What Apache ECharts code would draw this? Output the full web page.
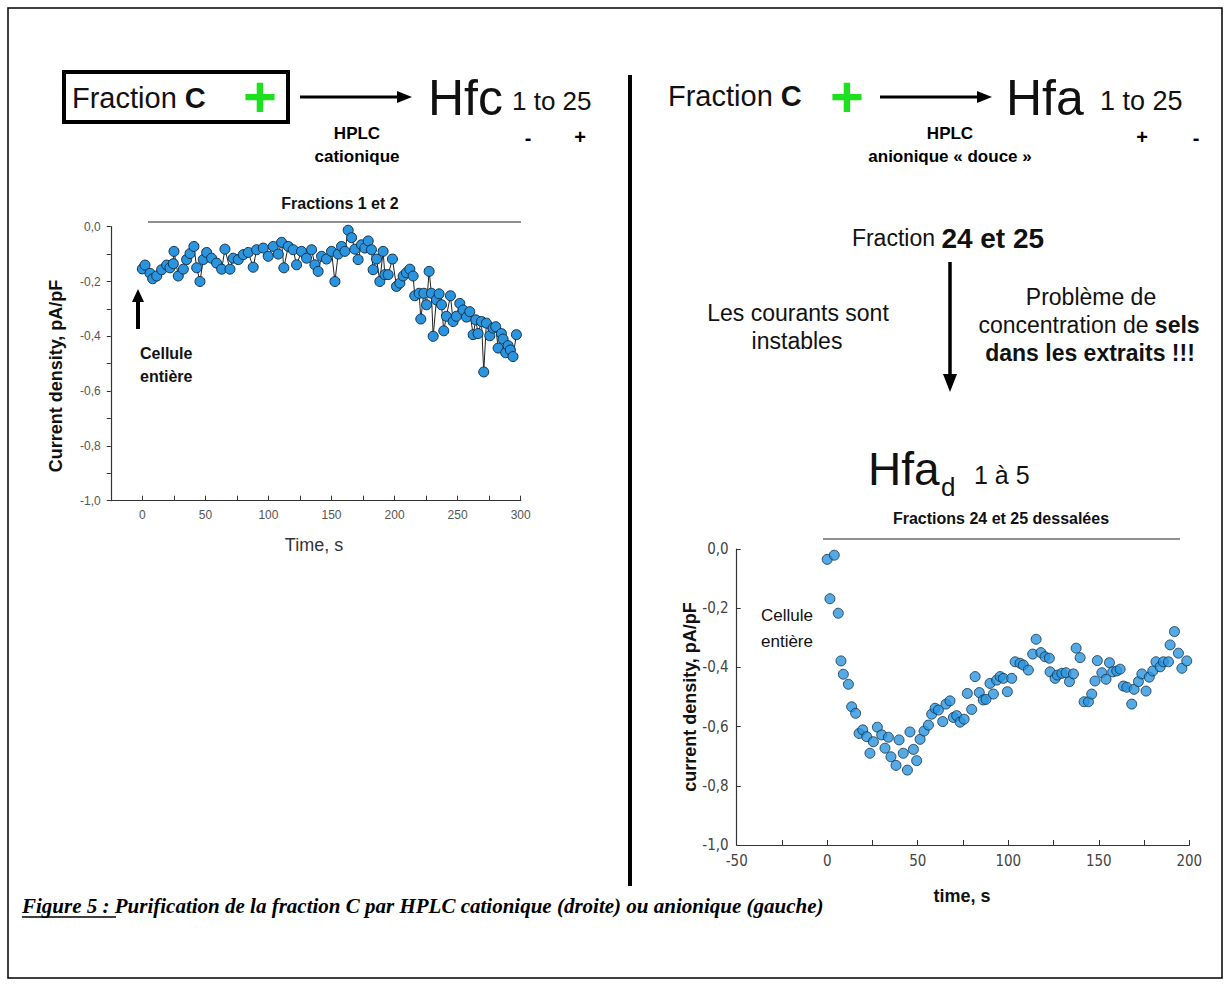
<!DOCTYPE html>
<html><head><meta charset="utf-8">
<script src="https://cdn.jsdelivr.net/npm/echarts@6/dist/echarts.min.js"></script>
<style>html,body{margin:0;padding:0;background:#fff}#c{width:1230px;height:986px}</style>
</head><body><div id="c"></div>
<script>
// ---- Left panel (Hfc fractions 1 et 2) ----
const leftTime = [0,2.1,6.1,8.2,11.4,15.3,19.3,21.9,24.6,25.1,28.5,32.5,35.1,37.8,40.9,43.1,45.7,48.3,51.0,54.9,58.9,62.9,65.5,69.5,72.1,76.1,80.0,84.0,87.9,90.6,95.9,99.8,103.8,107.8,110.4,112.2,115.7,119.6,122.3,126.2,130.2,134.2,136.8,139.4,142.1,146.0,150.0,152.7,155.3,157.9,160.6,163.2,165.9,168.5,171.1,173.8,176.4,179.1,181.7,183.0,185.7,188.3,190.9,192.3,194.9,198.3,201.5,204.2,206.8,209.4,212.1,214.7,216.0,219.5,220.8,223.2,225.3,227.4,229.2,230.6,233.2,235.3,237.2,239.0,241.1,244.3,246.4,249.0,251.7,254.3,257.0,259.6,262.3,264.4,266.2,268.9,270.7,272.8,275.5,278.1,280.2,282.1,284.7,286.0,288.1,290.0,291.8,293.9,296.6];
const leftDensity = [-0.154,-0.14,-0.17,-0.19,-0.18,-0.157,-0.14,-0.15,-0.135,-0.09,-0.18,-0.155,-0.12,-0.098,-0.072,-0.15,-0.2,-0.12,-0.094,-0.115,-0.133,-0.155,-0.082,-0.155,-0.115,-0.12,-0.102,-0.094,-0.148,-0.084,-0.078,-0.108,-0.072,-0.1,-0.057,-0.15,-0.072,-0.084,-0.139,-0.09,-0.115,-0.084,-0.139,-0.163,-0.108,-0.118,-0.09,-0.2,-0.1,-0.072,-0.09,-0.013,-0.04,-0.082,-0.12,-0.066,-0.078,-0.052,-0.084,-0.157,-0.118,-0.2,-0.09,-0.175,-0.175,-0.118,-0.218,-0.206,-0.18,-0.168,-0.155,-0.18,-0.252,-0.243,-0.337,-0.243,-0.285,-0.163,-0.243,-0.4,-0.267,-0.245,-0.285,-0.38,-0.327,-0.252,-0.346,-0.327,-0.28,-0.304,-0.33,-0.31,-0.394,-0.34,-0.39,-0.346,-0.53,-0.352,-0.398,-0.37,-0.365,-0.443,-0.39,-0.41,-0.46,-0.434,-0.45,-0.474,-0.394];

// ---- Right panel (Hfa_d fractions 24 et 25 dessalées) ----
const rightTime = [0,1.5,3.9,6.1,7.6,8.9,11.7,13.5,15.7,17.6,19.6,21.8,23.6,25.5,27.7,30.1,31.9,33.8,35.2,38.0,39.7,42.0,44.3,45.7,47.6,49.4,51.3,53.5,55.9,57.7,59.6,61.4,63.8,65.6,67.8,69.7,71.5,73.4,75.6,77.4,79.8,81.7,84.0,86.2,87.7,89.9,91.8,93.6,95.5,97.3,99.5,101.9,103.8,106.5,108.3,111.1,113.5,115.4,118.0,120.3,122.7,123.1,125.9,127.1,129.6,131.9,133.8,136.0,137.5,139.7,141.9,144.3,146.1,147.9,149.2,151.7,154.0,155.9,157.7,159.9,161.8,163.6,165.5,168.2,169.5,171.9,173.8,176.1,177.9,179.8,181.6,183.9,185.7,188.5,189.4,191.8,194.0,195.9,198.6];
const rightDensity = [-0.035,-0.168,-0.021,-0.217,-0.378,-0.423,-0.457,-0.533,-0.555,-0.623,-0.611,-0.634,-0.690,-0.651,-0.602,-0.628,-0.673,-0.636,-0.702,-0.731,-0.645,-0.690,-0.747,-0.618,-0.677,-0.715,-0.643,-0.615,-0.595,-0.558,-0.538,-0.544,-0.583,-0.524,-0.513,-0.569,-0.563,-0.585,-0.575,-0.488,-0.542,-0.431,-0.485,-0.510,-0.508,-0.454,-0.490,-0.443,-0.431,-0.437,-0.482,-0.437,-0.381,-0.386,-0.392,-0.409,-0.355,-0.305,-0.350,-0.364,-0.369,-0.415,-0.437,-0.426,-0.420,-0.418,-0.448,-0.422,-0.335,-0.367,-0.516,-0.516,-0.490,-0.446,-0.377,-0.418,-0.440,-0.384,-0.415,-0.412,-0.406,-0.463,-0.467,-0.524,-0.474,-0.448,-0.422,-0.480,-0.433,-0.412,-0.381,-0.398,-0.381,-0.381,-0.324,-0.279,-0.352,-0.403,-0.378];

const leftXTickStep = 50, rightXTickStep = 50;
const yLabelStep = 0.2;

function zip(a, b) { return a.map((v, i) => [v, b[i]]); }
function fmtY(v) {
  const r = Math.round(v * 10);
  if (Math.abs(r) % 2 !== 0) return '';
  return (r / 10).toFixed(1).replace('.', ',').replace('-0,0', '0,0');
}

const SANS = 'Liberation Sans, Arial, Helvetica, sans-serif';
const chart = echarts.init(document.getElementById('c'), null, {renderer: 'svg'});

function txt(x, y, text, font, opts) {
  opts = opts || {};
  return {type: 'text', x: x, y: y, rotation: opts.rotation || 0, silent: true,
    style: Object.assign({text: text, font: font, fill: opts.fill || '#000',
      textAlign: opts.align || 'left', textVerticalAlign: 'middle'}, opts.style || {})};
}
function line(x1, y1, x2, y2, w, color) {
  return {type: 'line', silent: true, shape: {x1, y1, x2, y2}, style: {stroke: color || '#000', lineWidth: w}};
}
function poly(points) {
  return {type: 'polygon', silent: true, shape: {points}, style: {fill: '#000'}};
}
function hArrow(x1, x2, y) {
  return [line(x1, y, x2 - 10, y, 3), poly([[x2 - 15, y - 6], [x2, y], [x2 - 15, y + 6]])];
}
function rich2(a, b) {
  return {rich: {a: {font: a, fill: '#111'}, b: {font: b, fill: '#111'}}};
}

const graphics = [
  {type: 'rect', silent: true, shape: {x: 8, y: 8, width: 1214, height: 970}, style: {fill: 'none', stroke: '#000', lineWidth: 1.5}},
  line(630, 75, 630, 886, 4),
  // left header
  {type: 'rect', silent: true, shape: {x: 64, y: 72, width: 224, height: 50}, style: {fill: 'none', stroke: '#000', lineWidth: 4}},
  txt(72, 98, '{a|Fraction }{b|C}', '', {style: rich2('29px ' + SANS, 'bold 29px ' + SANS)}),
  txt(260, 96, '+', 'bold 58px ' + SANS, {fill: '#1fe01f', align: 'center'}),
  ...hArrow(300, 412, 97),
  txt(428, 98, 'Hfc', '50px ' + SANS, {fill: '#111'}),
  txt(512, 101, '1 to 25', '26px ' + SANS, {fill: '#111'}),
  txt(357, 133, 'HPLC', 'bold 17px ' + SANS, {align: 'center'}),
  txt(357, 156, 'cationique', 'bold 17px ' + SANS, {align: 'center'}),
  txt(528, 138, '-', 'bold 20px ' + SANS, {align: 'center'}),
  txt(580, 137, '+', 'bold 20px ' + SANS, {align: 'center'}),
  // right header
  txt(668, 96, '{a|Fraction }{b|C}', '', {style: rich2('29px ' + SANS, 'bold 29px ' + SANS)}),
  txt(847, 96, '+', 'bold 58px ' + SANS, {fill: '#1fe01f', align: 'center'}),
  ...hArrow(880, 992, 97),
  txt(1006, 98, 'Hfa', '50px ' + SANS, {fill: '#111'}),
  txt(1100, 101, '1 to 25', '27px ' + SANS, {fill: '#111'}),
  txt(950, 133, 'HPLC', 'bold 17px ' + SANS, {align: 'center'}),
  txt(950, 156, 'anionique « douce »', 'bold 17px ' + SANS, {align: 'center'}),
  txt(1142, 137, '+', 'bold 20px ' + SANS, {align: 'center'}),
  txt(1196, 138, '-', 'bold 20px ' + SANS, {align: 'center'}),
  // right middle
  txt(948, 238, '{a|Fraction }{b|24 et 25}', '', {align: 'center', style: rich2('23px ' + SANS, 'bold 28px ' + SANS)}),
  line(950, 262, 950, 376, 3.5),
  poly([[943, 374], [950, 392], [957, 374]]),
  txt(798, 313, 'Les courants sont', '23px ' + SANS, {align: 'center', fill: '#111'}),
  txt(797, 341, 'instables', '23px ' + SANS, {align: 'center', fill: '#111'}),
  txt(1091, 297, 'Problème de', '23px ' + SANS, {align: 'center', fill: '#111'}),
  txt(1089, 325, '{a|concentration de }{b|sels}', '', {align: 'center', style: rich2('23px ' + SANS, 'bold 23px ' + SANS)}),
  txt(1090, 353, 'dans les extraits !!!', 'bold 23px ' + SANS, {align: 'center', fill: '#111'}),
  txt(868, 469, 'Hfa', '46px ' + SANS, {fill: '#111'}),
  txt(941, 487, 'd', '26px ' + SANS, {fill: '#111'}),
  txt(974, 475, '1 à 5', '25px ' + SANS, {fill: '#111'}),
  // left chart decorations
  txt(340, 203, 'Fractions 1 et 2', 'bold 16px ' + SANS, {align: 'center', fill: '#111'}),
  line(148, 222, 521, 222, 1.2, '#222'),
  txt(56, 376, 'Current density, pA/pF', 'bold 18px ' + SANS, {align: 'center', rotation: Math.PI / 2, fill: '#111'}),
  txt(314, 545, 'Time, s', '18px ' + SANS, {align: 'center', fill: '#333'}),
  txt(140, 353, 'Cellule', 'bold 16px ' + SANS, {fill: '#111'}),
  txt(140, 376, 'entière', 'bold 16px ' + SANS, {fill: '#111'}),
  line(138, 300, 138, 329, 4),
  poly([[132, 302], [138, 289], [144, 302]]),
  // right chart decorations
  txt(1001, 518, 'Fractions 24 et 25 dessalées', 'bold 16px ' + SANS, {align: 'center', fill: '#111'}),
  line(823, 539, 1180, 539, 1.2, '#222'),
  txt(690, 697, 'current density, pA/pF', 'bold 18px ' + SANS, {align: 'center', rotation: Math.PI / 2, fill: '#111'}),
  txt(962, 896, 'time, s', 'bold 18px ' + SANS, {align: 'center', fill: '#111'}),
  txt(761, 615, 'Cellule', '17px ' + SANS, {fill: '#111'}),
  txt(761, 641, 'entière', '17px ' + SANS, {fill: '#111'}),
  // caption
  txt(22, 906, 'Figure 5 : Purification de la fraction C par HPLC cationique (droite) ou anionique (gauche)', 'italic bold 21px Liberation Serif, Times New Roman, serif', {fill: '#000'}),
  line(22, 917, 116, 917, 1.4)
];

const axisLabelStyle = {color: '#555', fontSize: 12, fontFamily: SANS};
const pointStyle = {color: '#2a95de', borderColor: '#123049', borderWidth: 1};
const rightLabelFont = 'Liberation Sans Narrow, DejaVu Sans Condensed, ' + SANS;

chart.setOption({
  animation: false,
  backgroundColor: '#fff',
  grid: [
    {left: 110.8, top: 226.7, width: 409.9, height: 274},
    {left: 736.7, top: 549, width: 452.6, height: 296}
  ],
  xAxis: [
    {gridIndex: 0, type: 'value', min: -25, max: 300, interval: 25,
      axisLine: {onZero: false, lineStyle: {color: '#333', width: 1.2}},
      axisTick: {inside: true, length: 5, lineStyle: {color: '#333'}},
      splitLine: {show: false},
      axisLabel: Object.assign({margin: 8, formatter: v => (v % leftXTickStep === 0 ? String(v) : '')}, axisLabelStyle)},
    {gridIndex: 1, type: 'value', min: -50, max: 200, interval: 25,
      axisLine: {onZero: false, lineStyle: {color: '#333', width: 1.2}},
      axisTick: {inside: true, length: 5, lineStyle: {color: '#333'}},
      splitLine: {show: false},
      axisLabel: {margin: 8, color: '#444', fontSize: 15, fontFamily: rightLabelFont,
        formatter: v => (v % rightXTickStep === 0 ? String(v) : '')}}
  ],
  yAxis: [
    {gridIndex: 0, type: 'value', min: -1, max: 0, interval: 0.1,
      axisLine: {show: true, onZero: false, lineStyle: {color: '#333', width: 1.2}},
      axisTick: {show: true, length: 4, lineStyle: {color: '#333'}},
      splitLine: {show: false},
      axisLabel: Object.assign({margin: 10, formatter: fmtY}, axisLabelStyle)},
    {gridIndex: 1, type: 'value', min: -1, max: 0, interval: yLabelStep,
      axisLine: {show: true, onZero: false, lineStyle: {color: '#333', width: 1.2}},
      axisTick: {show: true, inside: true, length: 4, lineStyle: {color: '#333'}},
      splitLine: {show: false},
      axisLabel: {margin: 8, color: '#444', fontSize: 15, fontFamily: rightLabelFont, formatter: fmtY}}
  ],
  series: [
    {type: 'line', xAxisIndex: 0, yAxisIndex: 0, data: zip(leftTime, leftDensity),
      symbol: 'circle', symbolSize: 10, showAllSymbol: true,
      lineStyle: {color: '#222', width: 1}, itemStyle: pointStyle, z: 3},
    {type: 'scatter', xAxisIndex: 1, yAxisIndex: 1, data: zip(rightTime, rightDensity),
      symbol: 'circle', symbolSize: 10, itemStyle: pointStyle, z: 3}
  ],
  graphic: graphics
});
</script></body></html>
